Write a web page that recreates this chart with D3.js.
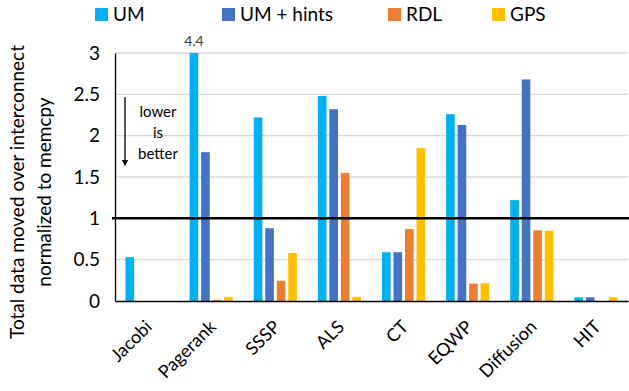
<!DOCTYPE html>
<html><head><meta charset="utf-8">
<script src="https://cdn.jsdelivr.net/npm/d3@7"></script>
<style>body{margin:0;background:#fff}svg{display:block}text{font-family:Lato,"Open Sans",sans-serif}</style>
</head><body>
<svg id="c" width="629" height="391"></svg>
<script>
const categories = ["Jacobi","Pagerank","SSSP","ALS","CT","EQWP","Diffusion","HIT"];
const seriesNames = ["UM","UM + hints","RDL","GPS"];
const colors = ["#00b0f0","#4472c4","#ed7d31","#ffc000"];
const UM      = [0.53, 4.4, 2.22, 2.48, 0.59, 2.26, 1.22, 0.045];
const UMhints = [0,    1.80, 0.88, 2.32, 0.59, 2.13, 2.68, 0.045];
const RDL     = [0,    0.015,0.245,1.55, 0.87, 0.21, 0.855,0];
const GPS     = [0,    0.05, 0.58, 0.05, 1.85, 0.215,0.85, 0.045];
const yTicks = [0,0.5,1,1.5,2,2.5,3];
const series = [UM, UMhints, RDL, GPS];

const svg = d3.select("#c");
const m = {l:115, r:628, t:53, b:301};
const x = d3.scaleBand().domain(categories).range([m.l, m.r]).paddingInner(0).paddingOuter(0);
const x1 = d3.scaleBand().domain(seriesNames).range([10.5, x.bandwidth()-10.5]).paddingInner(0.25).paddingOuter(0);
const y = d3.scaleLinear().domain([0,3]).range([m.b, m.t]);

// gridlines
svg.append("g").selectAll("line").data(yTicks.filter(d=>d>0)).join("line")
  .attr("x1", m.l).attr("x2", m.r).attr("y1", d=>y(d)).attr("y2", d=>y(d))
  .attr("stroke", "#d9d9d9").attr("stroke-width", 1.3);

// bars
const g = svg.append("g");
series.forEach((vals, si) => {
  g.selectAll(null).data(vals.map((v,i)=>({v, c:categories[i]}))).join("rect")
    .attr("x", d => x(d.c) + x1(seriesNames[si]))
    .attr("width", x1.bandwidth())
    .attr("y", d => y(Math.min(d.v, 3)))
    .attr("height", d => m.b - y(Math.min(d.v, 3)))
    .attr("fill", colors[si]);
});

// 4.4 label
svg.append("text").attr("x", x("Pagerank") + x1("UM") + x1.bandwidth()/2).attr("y", 46)
  .attr("text-anchor","middle").attr("font-size", 14).attr("fill","#404040").text("4.4");

// axes
const ya = d3.axisLeft(y).tickValues(yTicks).tickSize(0).tickPadding(15).tickFormat(d3.format("~g"));
const yg = svg.append("g").attr("transform", `translate(${m.l},0)`).call(ya);
yg.select(".domain").attr("stroke","#000").attr("stroke-width",1.3);
yg.selectAll("text").attr("font-size", 19).attr("fill","#000").attr("font-family","Lato, sans-serif");

const xa = d3.axisBottom(x).tickSize(0).tickPadding(0);
const xg = svg.append("g").attr("transform", `translate(0,${m.b})`).call(xa);
xg.select(".domain").attr("stroke","#000").attr("stroke-width",1.3);
xg.selectAll("text").attr("font-size", 18).attr("fill","#000")
  .attr("text-anchor","end").attr("dy", 0).attr("y", 0)
  .attr("transform", "translate(6,27) rotate(-45)");

// reference line at 1
svg.append("line").attr("x1", m.l-3).attr("x2", m.r+1).attr("y1", y(1)).attr("y2", y(1))
  .attr("stroke","#000").attr("stroke-width",2.5);

// y title
const yt = svg.append("text").attr("transform", `translate(24,${(m.t+m.b)/2+15}) rotate(-90)`)
  .attr("text-anchor","middle").attr("font-size",19).attr("fill","#000");
yt.append("tspan").attr("x",0).attr("dy",0).text("Total data moved over interconnect");
yt.append("tspan").attr("x",0).attr("dy",27).text("normalized to memcpy");

// annotation
svg.append("defs").append("marker").attr("id","ah").attr("viewBox","0 0 10 10").attr("refX",5).attr("refY",5)
  .attr("markerWidth",5).attr("markerHeight",7).attr("orient","auto")
  .append("path").attr("d","M0,0 L10,5 L0,10 z").attr("fill","#000");
svg.append("line").attr("x1",125).attr("x2",125).attr("y1",97).attr("y2",163)
  .attr("stroke","#000").attr("stroke-width",1.3).attr("marker-end","url(#ah)");
const an = svg.append("text").attr("text-anchor","middle").attr("font-size",15).attr("fill","#000");
["lower","is","better"].forEach((t,i)=>an.append("tspan").attr("x",158).attr("y",117+i*21).text(t));

// legend
const legX = [95, 222, 388, 492];
const lg = svg.append("g");
seriesNames.forEach((s,i)=>{
  lg.append("rect").attr("x",legX[i]).attr("y",8).attr("width",13).attr("height",13).attr("fill",colors[i]);
  lg.append("text").attr("x",legX[i]+18).attr("y",21).attr("font-size",19).attr("fill","#000").text(s);
});
</script>
</body></html>
